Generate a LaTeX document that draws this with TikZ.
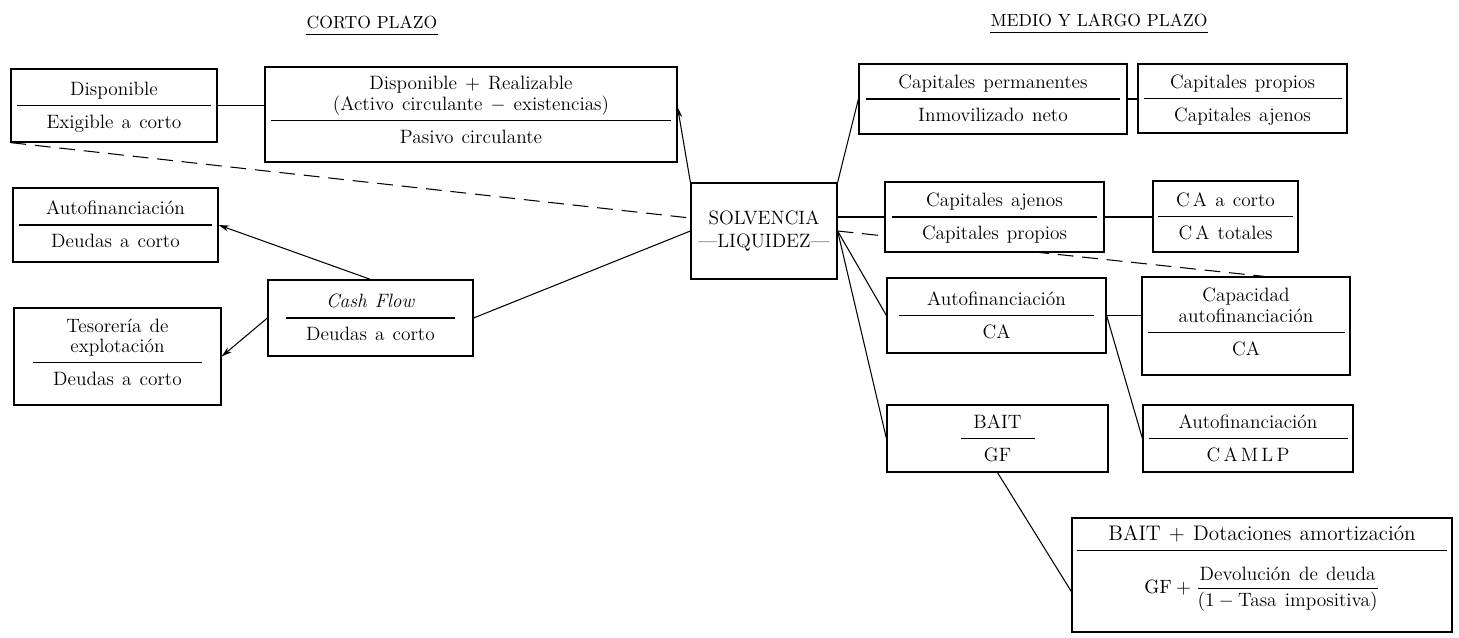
\documentclass[tikz,border=0pt]{standalone}
\usepackage{amsmath}
\usepackage{tikz}
\usetikzlibrary{arrows.meta}
\setlength{\arrayrulewidth}{0.7pt}
\newcommand{\cociente}[3]{{\renewcommand{\arraystretch}{1.4}%
  \begin{tabular}{@{}c@{}}\makebox[#1]{#2}\\\hline #3\end{tabular}}}
\newcommand{\lineas}[1]{{\renewcommand{\arraystretch}{0.9}%
  \begin{tabular}[b]{@{}c@{}}#1\end{tabular}}}
\begin{document}
\begin{tikzpicture}[x=0.02cm,y=-0.02cm,
  font={\fontsize{11pt}{13pt}\selectfont\spaceskip=0.42em plus 0.3em minus 0.1em}]
\tikzstyle{box}=[rectangle,draw,line width=0.7pt,fill=white,inner sep=0pt]
\tikzstyle{titulo}=[inner xsep=0pt,font=\fontsize{10pt}{12pt}\selectfont]
\tikzstyle{conector}=[line width=0.6pt]
\tikzstyle{flecha}=[-{Stealth[length=6pt,width=3.5pt]}]
\tikzstyle{guiones}=[dash pattern=on 9pt off 5pt]
\useasboundingbox (0,0) rectangle (1459,638);

% titulos
\node[titulo] at(372, 22) (corto) {CORTO PLAZO};
\draw (corto.south west) -- (corto.south east);
\node[titulo] at(1099, 20) (medio) {MEDIO Y LARGO PLAZO};
\draw (medio.south west) -- (medio.south east);

% corto plazo
\node[box,minimum width=4.12cm,minimum height=1.46cm] at(114, 105.5) (disp)
  {\cociente{3.88cm}{Disponible}{Exigible a corto}};
\node[box,minimum width=8.24cm,minimum height=1.9cm] at(471, 114.5) (real)
  {\cociente{8cm}{\lineas{Disponible $+$ Realizable\\(Activo circulante $-$ existencias)}}{Pasivo circulante}};
\node[box,minimum width=4.1cm,minimum height=1.48cm] at(115.5, 225) (autoc)
  {\cociente{3.88cm}{Autofinanciación}{Deudas a corto}};
\node[box,minimum width=4.1cm,minimum height=1.52cm] at(370.5, 318) (cash)
  {\cociente{3.4cm}{\textit{Cash Flow}}{Deudas a corto}};
\node[box,minimum width=4.14cm,minimum height=1.94cm] at(117.5, 356.5) (teso)
  {\cociente{3.4cm}{\lineas{Tesorería de\\explotación}}{Deudas a corto}};

% centro
\node[box,minimum width=2.92cm,minimum height=1.92cm,align=center] at(764, 231) (solv)
  {SOLVENCIA\\\textemdash LIQUIDEZ\textemdash};

% medio y largo plazo
\node[box,minimum width=5.36cm,minimum height=1.4cm] at(993, 99) (perm)
  {\cociente{5.1cm}{Capitales permanentes}{Inmovilizado neto}};
\node[box,minimum width=4.18cm,minimum height=1.38cm] at(1242.5, 98.5) (prop)
  {\cociente{3.96cm}{Capitales propios}{Capitales ajenos}};
\node[box,minimum width=4.16cm,minimum height=1.96cm] at(1246, 326) (capa)
  {\cociente{3.94cm}{\lineas{Capacidad\\autofinanciación}}{CA}};
\draw[conector,guiones] (solv.east) -- (capa.70);
\node[box,minimum width=4.38cm,minimum height=1.4cm] at(994.5, 217) (ajen)
  {\cociente{4.12cm}{Capitales ajenos}{Capitales propios}};
\node[box,minimum width=2.9cm,minimum height=1.42cm] at(1225.5, 216.5) (caco)
  {\cociente{2.7cm}{C\,A a corto}{C\,A totales}};
\node[box,minimum width=4.38cm,minimum height=1.5cm] at(996.5, 315.5) (autoca)
  {\cociente{3.9cm}{Autofinanciación}{CA}};
\node[box,minimum width=4.42cm,minimum height=1.34cm] at(997.5, 438.5) (bait)
  {\cociente{1.48cm}{BAIT}{GF}};
\node[box,minimum width=4.2cm,minimum height=1.34cm] at(1248, 438.5) (camlp)
  {\cociente{3.98cm}{Autofinanciación}{C\,A\,M\,L\,P}};
\node[box,minimum width=7.6cm,minimum height=2.28cm] at(1262, 575) (big)
  {\cociente{7.4cm}{\fontsize{12pt}{14pt}\selectfont BAIT + Dotaciones amortización}%
  {\rule{0pt}{24pt}\rule[-22pt]{0pt}{22pt}$\mathrm{GF}+\dfrac{\text{Devolución de deuda}}{(1-\text{Tasa impositiva})}$}};

% conectores
\draw[conector] (disp.east) -- (disp.east -| real.west);
\draw[conector,guiones] (disp.south west) -- (solv.170);
\draw[conector,flecha] (solv.north west) -- (real.2);
\draw[conector] (cash.east) -- (solv.west);
\draw[conector,flecha] (cash.north) -- (autoc.east);
\draw[conector,flecha] (cash.west) -- (teso.east);
\draw[conector] (solv.north east) -- (perm.west);
\draw[conector] (perm.east) -- (perm.east -| prop.west);
\draw[conector] (solv.east |- ajen.west) -- (ajen.west);
\draw[conector] (ajen.east) -- (ajen.east -| caco.west);
\draw[conector] (solv.east) -- (autoca.west);
\draw[conector] (solv.east) -- (bait.west);
\draw[conector] (autoca.east) -- (autoca.east -| capa.west);
\draw[conector] (autoca.east) -- (camlp.west);
\draw[conector] (bait.south) -- (big.185);
\end{tikzpicture}
\end{document}
